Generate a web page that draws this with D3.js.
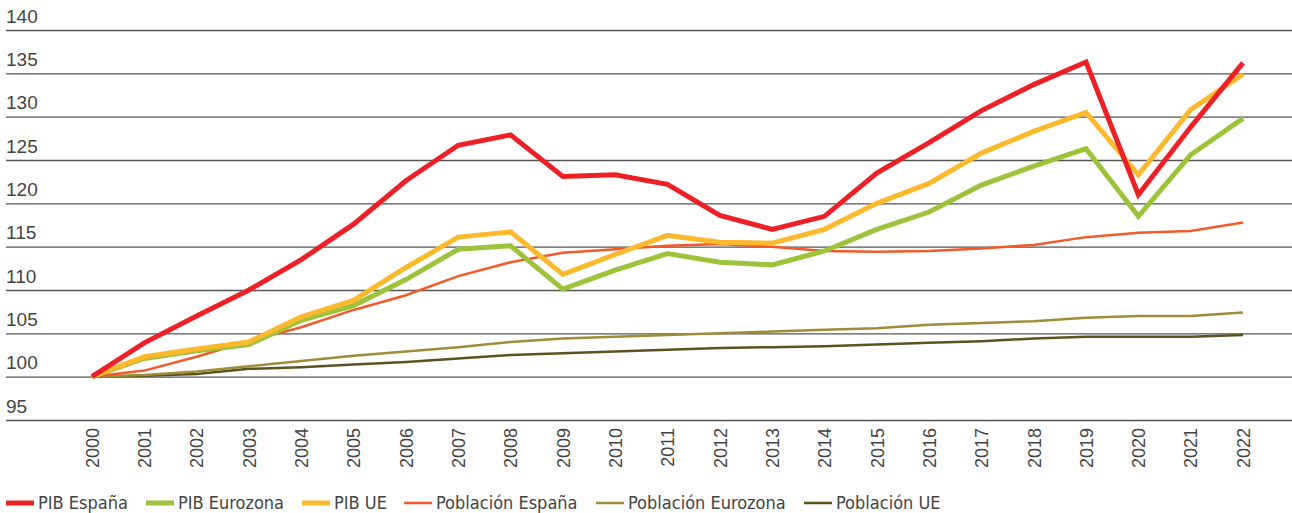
<!DOCTYPE html>
<html>
<head>
<meta charset="utf-8">
<script src="https://cdn.jsdelivr.net/npm/d3@7"></script>
<style>
  body { margin: 0; background: #fff; }
  svg { display: block; font-family: "Liberation Sans Narrow", "DejaVu Sans Condensed", "Roboto", sans-serif; }
</style>
</head>
<body>
<svg id="chart" width="1292" height="513"></svg>
<script>
var years = d3.range(2000, 2023)
var yTicks = [95, 100, 105, 110, 115, 120, 125, 130, 135, 140]

var pibEspana = [100, 103.9, 107.0, 110.0, 113.5, 117.6, 122.6, 126.7, 127.9, 123.1, 123.3, 122.2,
    118.6, 117.0, 118.5, 123.5, 127.0, 130.7, 133.7, 136.3, 121.0, 128.8, 136.2]
var pibEurozona = [100, 102.1, 103.0, 103.7, 106.5, 108.2, 111.2, 114.7, 115.1, 110.1, 112.3, 114.2,
    113.2, 112.9, 114.5, 117.0, 119.0, 122.1, 124.3, 126.3, 118.5, 125.6, 129.8]
var pibUE = [100, 102.3, 103.2, 104.0, 106.9, 108.8, 112.6, 116.1, 116.7, 111.8, 114.1, 116.3,
    115.5, 115.4, 117.0, 120.0, 122.3, 125.8, 128.3, 130.5, 123.3, 130.8, 134.9]
var poblEspana = [100, 100.7, 102.3, 104.1, 105.7, 107.7, 109.4, 111.6, 113.2, 114.3, 114.7, 115.1,
    115.3, 115.0, 114.5, 114.4, 114.5, 114.8, 115.2, 116.1, 116.6, 116.8, 117.8]
var poblEurozona = [100, 100.2, 100.6, 101.2, 101.8, 102.4, 102.9, 103.4, 104.0, 104.4, 104.6, 104.8,
    105.0, 105.2, 105.4, 105.6, 106.0, 106.2, 106.4, 106.8, 107.0, 107.0, 107.4]
var poblUE = [100, 100.1, 100.3, 100.9, 101.1, 101.4, 101.7, 102.1, 102.5, 102.7, 102.9, 103.1,
    103.3, 103.4, 103.5, 103.7, 103.9, 104.1, 104.4, 104.6, 104.6, 104.6, 104.8]

var series = [
    {name: 'PIB España', values: pibEspana, color: '#ec2027', w: 5},
    {name: 'PIB Eurozona', values: pibEurozona, color: '#9dc33b', w: 5},
    {name: 'PIB UE', values: pibUE, color: '#fcb92d', w: 5},
    {name: 'Población España', values: poblEspana, color: '#f15a2b', w: 2.5},
    {name: 'Población Eurozona', values: poblEurozona, color: '#a08c38', w: 2.5},
    {name: 'Población UE', values: poblUE, color: '#5b5220', w: 2.5}
]

var svg = d3.select('#chart'),
    x = d3.scaleLinear().domain([2000, 2022]).range([92, 1243]),
    y = d3.scaleLinear().domain([95, 140]).range([420, 30])

// gridlines + y labels
var yAxis = svg.append('g')
    .attr('transform', 'translate(6,0)')
    .call(d3.axisRight(y).tickValues(yTicks).tickSize(1286).tickFormat(d3.format('d')))
yAxis.select('.domain').remove()
yAxis.selectAll('line').attr('stroke', '#555').attr('stroke-width', 1.4)
yAxis.selectAll('text')
    .attr('x', 0).attr('dy', -8)
    .attr('text-anchor', 'start')
    .attr('fill', '#444').attr('font-size', 19)

// x labels
var xAxis = svg.append('g')
    .attr('transform', 'translate(0,428)')
    .call(d3.axisBottom(x).tickValues(years).tickSize(0).tickFormat(d3.format('d')))
xAxis.select('.domain').remove()
xAxis.selectAll('text')
    .attr('transform', 'rotate(-90)')
    .attr('x', 0).attr('y', 0).attr('dy', '0.35em')
    .attr('text-anchor', 'end')
    .attr('fill', '#444').attr('font-size', 18)

var line = d3.line()
    .x((d, i) => x(years[i]))
    .y((d) => y(d))

// thin population lines under the GDP lines
var order = [5, 4, 3, 1, 2, 0]
order.forEach(function(k) {
    var s = series[k]
    svg.append('path')
        .attr('d', line(s.values))
        .attr('fill', 'none')
        .attr('stroke', s.color)
        .attr('stroke-width', s.w)
        .attr('stroke-linejoin', 'miter')
})

// legend
var legendX = [6, 146, 302, 404, 596, 804]
var legend = svg.append('g').attr('transform', 'translate(0,503)')
series.forEach(function(s, i) {
    legend.append('rect')
        .attr('x', legendX[i]).attr('y', -s.w / 2)
        .attr('width', 28).attr('height', s.w)
        .attr('fill', s.color)
    legend.append('text')
        .attr('x', legendX[i] + 32).attr('y', 0).attr('dy', '0.35em')
        .attr('fill', '#444').attr('font-size', 18)
        .text(s.name)
})
</script>
</body>
</html>
